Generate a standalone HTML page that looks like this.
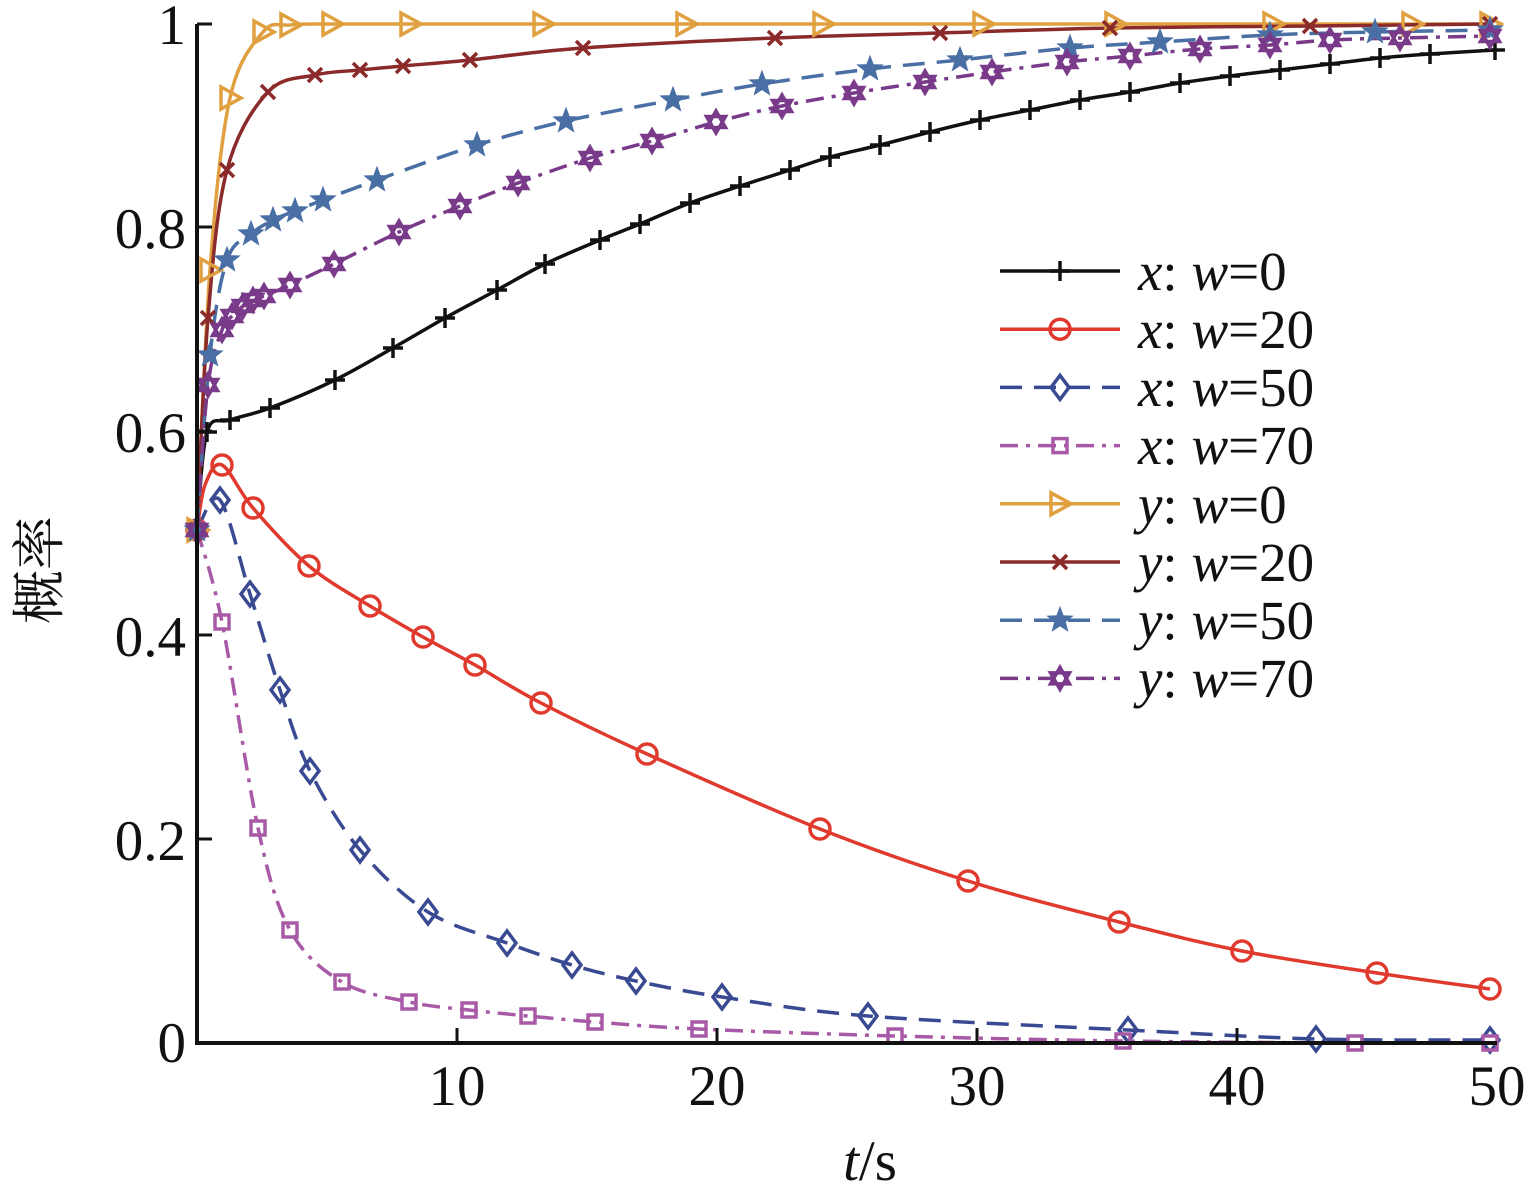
<!DOCTYPE html>
<html><head><meta charset="utf-8"><style>
html,body{margin:0;padding:0;background:#fff;}
svg{display:block;}
text{font-family:"Liberation Serif","Noto Serif CJK SC",serif;fill:#111;}
</style></head><body>
<svg id="s" width="1529" height="1183" viewBox="0 0 1529 1183" xmlns="http://www.w3.org/2000/svg">
<g font-size="57" text-anchor="end" font-family="Liberation Serif, serif">
<text x="186" y="44">1</text>
<text x="186" y="248">0.8</text>
<text x="186" y="452">0.6</text>
<text x="186" y="656">0.4</text>
<text x="186" y="860">0.2</text>
<text x="186" y="1062">0</text>
</g>
<g font-size="57" text-anchor="middle" font-family="Liberation Serif, serif">
<text x="457" y="1105">10</text>
<text x="717" y="1105">20</text>
<text x="977" y="1105">30</text>
<text x="1237" y="1105">40</text>
<text x="1497" y="1105">50</text>
<text x="870" y="1180"><tspan font-style="italic">t</tspan>/s</text>
</g>
<text x="0" y="0" font-size="54" transform="translate(58,570) rotate(-90)" text-anchor="middle" font-family="Noto Serif CJK SC, serif">概率</text>
<g id="plot"></g>
<path d="M197,24 V1043 H1497" fill="none" stroke="#111" stroke-width="4"/>
<g stroke="#111" stroke-width="3">
<line x1="197" y1="24" x2="212" y2="24"/><line x1="197" y1="227" x2="212" y2="227"/><line x1="197" y1="431" x2="212" y2="431"/><line x1="197" y1="635" x2="212" y2="635"/><line x1="197" y1="839" x2="212" y2="839"/>
<line x1="457" y1="1043" x2="457" y2="1028"/><line x1="717" y1="1043" x2="717" y2="1028"/><line x1="977" y1="1043" x2="977" y2="1028"/><line x1="1237" y1="1043" x2="1237" y2="1028"/>
</g>
<g id="leg"></g>
<g font-size="55" font-family="Liberation Serif, serif">
<text x="1138" y="290"><tspan font-style="italic">x</tspan>: <tspan font-style="italic">w</tspan>=0</text>
<text x="1138" y="348"><tspan font-style="italic">x</tspan>: <tspan font-style="italic">w</tspan>=20</text>
<text x="1138" y="406"><tspan font-style="italic">x</tspan>: <tspan font-style="italic">w</tspan>=50</text>
<text x="1138" y="464"><tspan font-style="italic">x</tspan>: <tspan font-style="italic">w</tspan>=70</text>
<text x="1138" y="523"><tspan font-style="italic">y</tspan>: <tspan font-style="italic">w</tspan>=0</text>
<text x="1138" y="581"><tspan font-style="italic">y</tspan>: <tspan font-style="italic">w</tspan>=20</text>
<text x="1138" y="639"><tspan font-style="italic">y</tspan>: <tspan font-style="italic">w</tspan>=50</text>
<text x="1138" y="697"><tspan font-style="italic">y</tspan>: <tspan font-style="italic">w</tspan>=70</text>
</g>
</svg>
<script>
const NS="http://www.w3.org/2000/svg";
function el(p,t,a){const e=document.createElementNS(NS,t);for(const k in a)e.setAttribute(k,a[k]);p.appendChild(e);return e;}
function marker(g,type,x,y,c){
 const sw=3.5;
 if(type=='+'){el(g,'path',{d:`M${x-10},${y}H${x+10}M${x},${y-10}V${y+10}`,stroke:c,'stroke-width':sw,fill:'none'});}
 else if(type=='o'){el(g,'circle',{cx:x,cy:y,r:10,stroke:c,'stroke-width':sw,fill:'none'});}
 else if(type=='d'){el(g,'path',{d:`M${x},${y-12}L${x+9},${y}L${x},${y+12}L${x-9},${y}Z`,stroke:c,'stroke-width':sw,fill:'none'});}
 else if(type=='s'){el(g,'rect',{x:x-7,y:y-7,width:14,height:14,stroke:c,'stroke-width':sw,fill:'none'});}
 else if(type=='>'){el(g,'path',{d:`M${x-9},${y-11}L${x+11},${y}L${x-9},${y+11}Z`,stroke:c,'stroke-width':sw,fill:'none'});}
 else if(type=='x'){el(g,'path',{d:`M${x-7},${y-7}L${x+7},${y+7}M${x-7},${y+7}L${x+7},${y-7}`,stroke:c,'stroke-width':sw,fill:'none'});}
 else if(type=='*'){let p='';for(let i=0;i<10;i++){const r=i%2?5.5:13,a=-Math.PI/2+i*Math.PI/5;p+=(i?'L':'M')+(x+r*Math.cos(a)).toFixed(1)+','+(y+r*Math.sin(a)).toFixed(1);}el(g,'path',{d:p+'Z',fill:c,stroke:c,'stroke-width':1});}
 else if(type=='h'){const r=11;let p1='',p2='';for(let i=0;i<3;i++){const a=-Math.PI/2+i*2*Math.PI/3,b=Math.PI/2+i*2*Math.PI/3;p1+=(i?'L':'M')+(x+r*Math.cos(a)).toFixed(1)+','+(y+r*Math.sin(a)).toFixed(1);p2+=(i?'L':'M')+(x+r*Math.cos(b)).toFixed(1)+','+(y+r*Math.sin(b)).toFixed(1);}el(g,'path',{d:p1+'Z'+p2+'Z',fill:'none',stroke:c,'stroke-width':3.5});}
}
function smooth(pts){let d='M'+pts[0][0]+','+pts[0][1];for(let i=0;i<pts.length-1;i++){const p0=pts[i-1]||pts[i],p1=pts[i],p2=pts[i+1],p3=pts[i+2]||p2;const c1x=p1[0]+(p2[0]-p0[0])/6,c1y=p1[1]+(p2[1]-p0[1])/6,c2x=p2[0]-(p3[0]-p1[0])/6,c2y=p2[1]-(p3[1]-p1[1])/6;d+=`C${c1x.toFixed(1)},${c1y.toFixed(1)} ${c2x.toFixed(1)},${c2y.toFixed(1)} ${p2[0]},${p2[1]}`;}return d;}
const S=[
 {c:'#111',m:'+',dash:'',pts:[[197,530],[207,432],[230,420],[270,408],[335,380],[393,348],[445,318],[497,290],[545,264],[600,240],[640,224],[690,203],[740,186],[790,170],[830,157],[880,145],[930,132],[980,120],[1030,110],[1080,100],[1130,92],[1180,83],[1230,76],[1280,70],[1330,64],[1380,58],[1430,54],[1495,50]]},
 {c:'#e03a2e',m:'o',dash:'',pts:[[197,530],[205,485],[222,465],[253,508],[309,566],[370,606],[423,637],[475,665],[541,703],[647,754],[820,829],[968,881],[1119,922],[1242,951],[1377,973],[1490,989]]},
 {c:'#3a4a92',m:'d',dash:'22,12',pts:[[197,530],[220,500],[250,594],[280,690],[310,771],[360,850],[428,912],[507,943],[572,965],[636,981],[722,997],[868,1016],[1128,1030],[1316,1039],[1490,1040]]},
 {c:'#a85aa6',m:'s',dash:'18,8,4,8',pts:[[197,530],[222,622],[258,828],[290,930],[342,982],[409,1002],[469,1010],[528,1016],[595,1022],[699,1029],[895,1036],[1123,1041],[1355,1043],[1490,1043]]},
 {c:'#e0a040',m:'>',dash:'',pts:[[197,530],[210,270],[230,98],[263,32],[290,25],[332,24],[410,24],[543,24],[686,24],[823,24],[983,24],[1115,24],[1273,24],[1412,24],[1490,24]]},
 {c:'#8b2a2a',m:'x',dash:'',pts:[[197,530],[208,318],[227,170],[268,92],[315,75],[360,70],[403,66],[470,60],[583,48],[775,38],[940,33],[1110,28],[1310,26],[1490,24]]},
 {c:'#4a6fa5',m:'*',dash:'22,12',pts:[[197,530],[210,355],[227,260],[251,234],[273,220],[295,211],[323,200],[377,180],[477,145],[566,121],[673,100],[762,84],[870,69],[960,60],[1070,48],[1160,42],[1270,35],[1375,32],[1490,30]]},
 {c:'#7a3a8a',m:'h',dash:'18,8,4,8',pts:[[197,530],[208,385],[222,330],[232,316],[243,306],[253,300],[264,296],[290,285],[334,264],[399,232],[460,206],[518,183],[590,158],[652,141],[716,122],[782,106],[854,93],[925,82],[992,72],[1067,62],[1130,56],[1200,49],[1270,45],[1330,40],[1400,38],[1490,36]]}
];
const plot=document.getElementById('plot');
S.forEach(s=>{el(plot,'path',{d:smooth(s.pts),fill:'none',stroke:s.c,'stroke-width':3.5,'stroke-dasharray':s.dash});});
S.forEach(s=>{s.pts.forEach((p,i)=>{if(i==0)return;if(s.c=='#e03a2e'&&i==1)return;marker(plot,s.m,p[0],p[1],s.c);});marker(plot,s.m,197,530,s.c);});
const leg=document.getElementById('leg');
S.forEach((s,i)=>{const y=271+i*58.2;el(leg,'line',{x1:1000,y1:y,x2:1120,y2:y,stroke:s.c,'stroke-width':3.5,'stroke-dasharray':s.dash});marker(leg,s.m,1060,y,s.c);});
</script>
</body></html>
